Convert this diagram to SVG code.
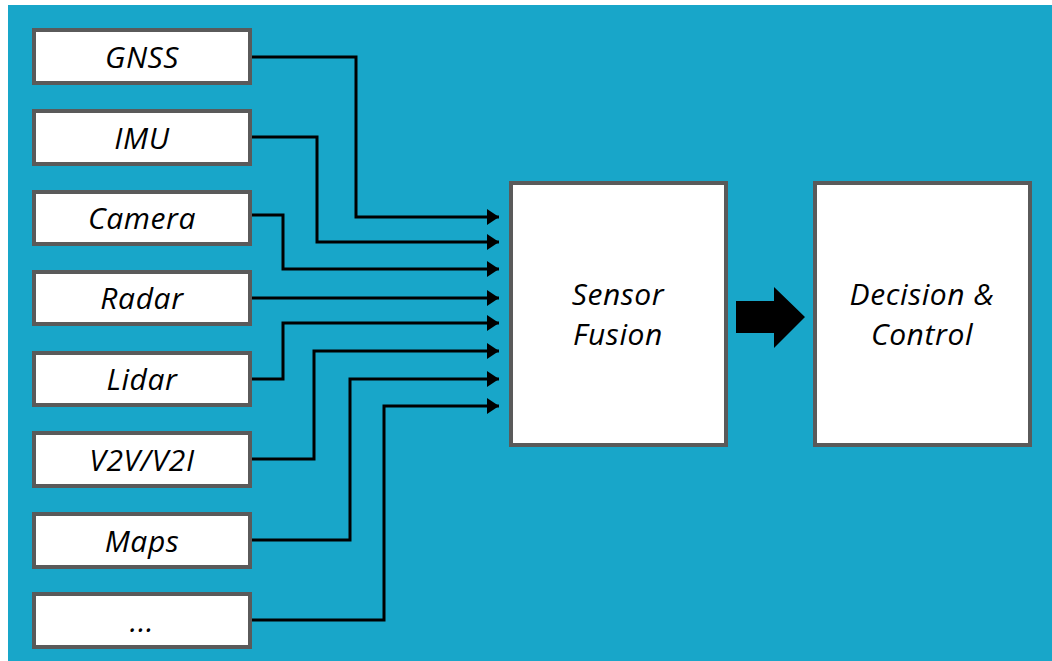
<svg xmlns="http://www.w3.org/2000/svg" width="1052" height="661" viewBox="0 0 1052 661">
<style>
.box{fill:#fff;stroke:#5a5a5a;stroke-width:4}
.lbl{font-family:"Open Sans","Liberation Sans",sans-serif;font-style:italic;font-size:30px;letter-spacing:0.6px;fill:#000;text-anchor:middle}
.wire{fill:none;stroke:#000;stroke-width:3;marker-end:url(#ah)}
</style>
<defs>
<marker id="ah" markerUnits="userSpaceOnUse" markerWidth="13" markerHeight="16" refX="12" refY="8" orient="auto">
<path d="M0,0 L12,8 L0,16 Z" fill="#000"/>
</marker>
</defs>
<rect x="0" y="0" width="1052" height="661" fill="#fff"/>
<rect x="8" y="5" width="1044" height="656" fill="#18a6c9"/>
<g id="gnss"><rect class="box" x="34" y="30" width="216" height="53"/><text class="lbl" x="142" y="68">GNSS</text></g>
<g id="imu"><rect class="box" x="34" y="111" width="216" height="53"/><text class="lbl" x="142" y="149">IMU</text></g>
<g id="camera"><rect class="box" x="34" y="192" width="216" height="52"/><text class="lbl" x="142" y="229">Camera</text></g>
<g id="radar"><rect class="box" x="34" y="272" width="216" height="52"/><text class="lbl" x="142" y="309">Radar</text></g>
<g id="lidar"><rect class="box" x="34" y="353" width="216" height="52"/><text class="lbl" x="142" y="390">Lidar</text></g>
<g id="v2v"><rect class="box" x="34" y="433" width="216" height="53"/><text class="lbl" x="142" y="471">V2V/V2I</text></g>
<g id="maps"><rect class="box" x="34" y="514" width="216" height="53"/><text class="lbl" x="142" y="552">Maps</text></g>
<g id="more"><rect class="box" x="34" y="594" width="216" height="53"/><text class="lbl" x="142" y="632">...</text></g>
<g id="fusion"><rect class="box" x="511" y="183" width="215" height="262"/><text class="lbl" x="618" y="305">Sensor</text><text class="lbl" x="618" y="345">Fusion</text></g>
<g id="decision"><rect class="box" x="815" y="183" width="215" height="262"/><text class="lbl" x="922" y="305">Decision &amp;</text><text class="lbl" x="922" y="345">Control</text></g>
<g id="connectors">
<polyline class="wire" points="252,57 356,57 356,217 499,217"/>
<polyline class="wire" points="252,137 317,137 317,242 499,242"/>
<polyline class="wire" points="252,215 283,215 283,269 499,269"/>
<polyline class="wire" points="252,298 499,298"/>
<polyline class="wire" points="252,379 283,379 283,323 499,323"/>
<polyline class="wire" points="252,459 314,459 314,351 499,351"/>
<polyline class="wire" points="252,540 350,540 350,379 499,379"/>
<polyline class="wire" points="252,620 384,620 384,406 499,406"/>
<path d="M736,301 L774,301 L774,287 L805,317 L774,348 L774,333 L736,333 Z" fill="#000"/>
</g>
</svg>
